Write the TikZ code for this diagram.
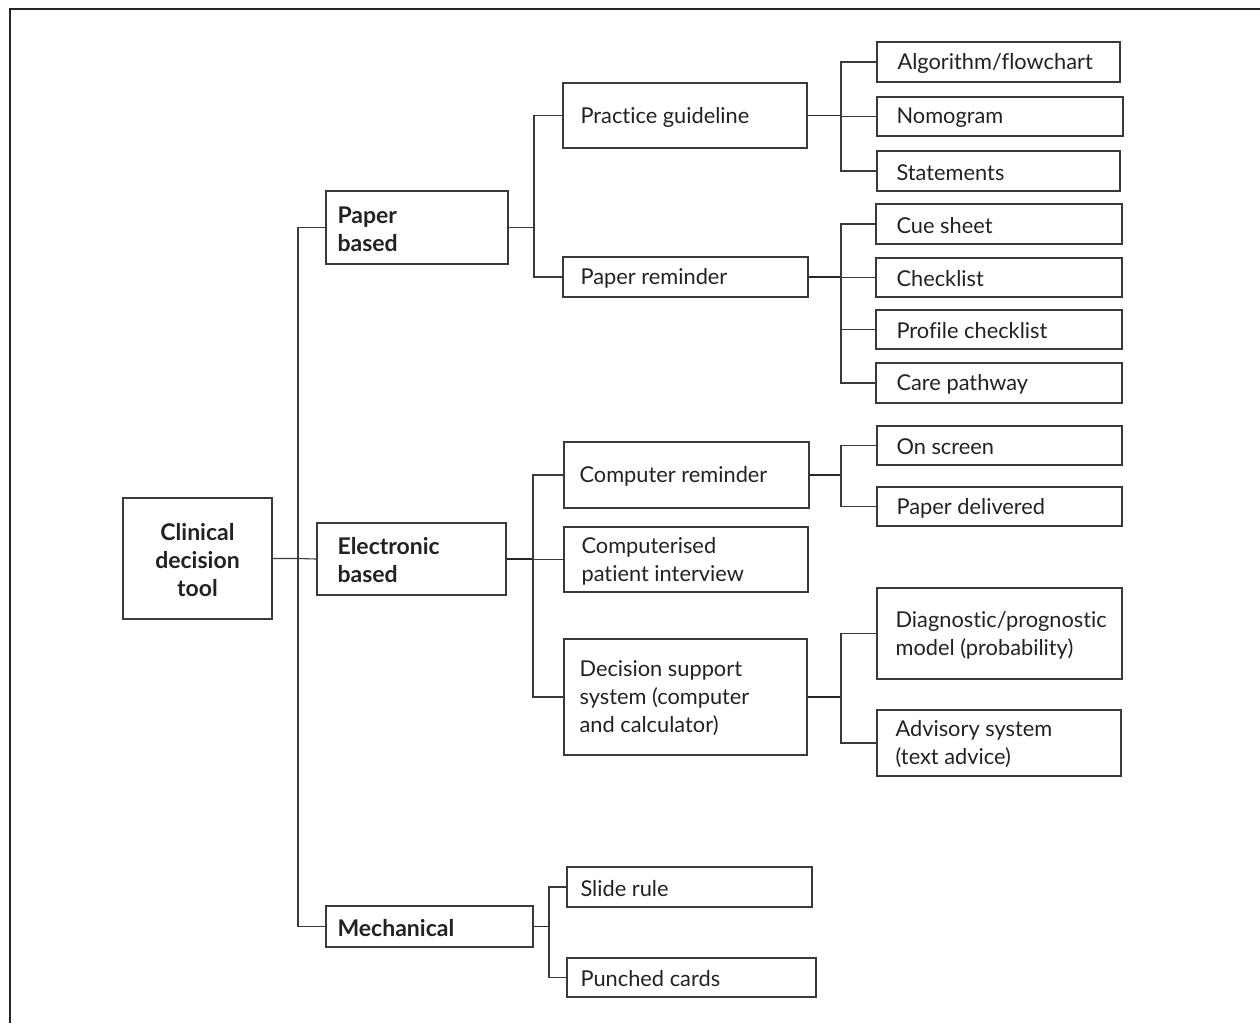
\documentclass[tikz,border=0pt]{standalone}
\usepackage{fontspec}
\setmainfont[Ligatures=NoCommon]{Lato}
\usetikzlibrary{fit}
\definecolor{ink}{HTML}{222222}
\definecolor{edge}{HTML}{3A3A3A}
\tikzset{
  x=1pt, y=-1pt,
  box/.style={draw=edge, line width=1.3pt, inner sep=0pt},
  txt/.style={anchor=west, inner sep=0pt, align=left, text=ink, yshift=-1.5pt,
    font=\fontsize{21.8}{28}\selectfont},
  btxt/.style={txt, font=\fontsize{23}{28}\selectfont\bfseries},
  link/.style={draw=edge, line width=1.1pt},
  stub/.style={draw=black!85, line width=1.9pt},
  frame/.style={draw=black!85, line width=2pt},
}
\begin{document}
\begin{tikzpicture}
\useasboundingbox (0,0) rectangle (1260,1023);
% page frame (top and left rules)
\draw[frame] (10,1023) -- (10,9) -- (1260,9);

% root
\node[box, fit={(123,498) (272,619)}] (cdt) {};
\node[btxt, anchor=center, align=center] (cdt-t) at (cdt.center) {Clinical\\decision\\tool};

% first level
\node[box, fit={(326,191) (508,264)}] (paper) {};
\node[btxt] (paper-t) at ([xshift=12pt]paper.west) {Paper\\based};
\node[box, fit={(317,523) (506,595)}] (elec) {};
\node[btxt] (elec-t) at ([xshift=21pt]elec.west) {Electronic\\based};
\node[box, fit={(326,906) (533,947)}] (mech) {};
\node[btxt] (mech-t) at ([xshift=12pt]mech.west) {Mechanical};

% paper based branch
\node[box, fit={(563,83) (807,148)}] (pg) {};
\node[txt] (pg-t) at ([xshift=18pt]pg.west) {Practice guideline};
\node[box, fit={(563,257) (808,297)}] (pr) {};
\node[txt] (pr-t) at ([xshift=18pt]pr.west) {Paper reminder};

\node[box, fit={(877,42) (1120,82)}] (alg) {};
\node[txt] (alg-t) at ([xshift=21pt]alg.west) {Algorithm/flowchart};
\node[box, fit={(877,97) (1123,136)}] (nomo) {};
\node[txt] (nomo-t) at ([xshift=20pt]nomo.west) {Nomogram};
\node[box, fit={(877,151) (1120,191)}] (stat) {};
\node[txt] (stat-t) at ([xshift=20pt]stat.west) {Statements};

\node[box, fit={(876,204) (1122,244)}] (cue) {};
\node[txt] (cue-t) at ([xshift=21pt]cue.west) {Cue sheet};
\node[box, fit={(876,258) (1122,297)}] (check) {};
\node[txt] (check-t) at ([xshift=21pt]check.west) {Checklist};
\node[box, fit={(876,310) (1122,349)}] (prof) {};
\node[txt] (prof-t) at ([xshift=21pt]prof.west) {Profile checklist};
\node[box, fit={(876,363) (1122,403)}] (care) {};
\node[txt] (care-t) at ([xshift=21pt]care.west) {Care pathway};

% electronic branch
\node[box, fit={(564,442) (809,508)}] (cr) {};
\node[txt] (cr-t) at ([xshift=16pt]cr.west) {Computer reminder};
\node[box, fit={(564,527) (808,592)}] (cpi) {};
\node[txt] (cpi-t) at ([xshift=18pt]cpi.west) {Computerised\\patient interview};
\node[box, fit={(564,639) (807,755)}] (dss) {};
\node[txt] (dss-t) at ([xshift=16pt]dss.west) {Decision support\\system (computer\\and calculator)};

\node[box, fit={(877,426) (1122,465)}] (onscr) {};
\node[txt] (onscr-t) at ([xshift=20pt]onscr.west) {On screen};
\node[box, fit={(877,487) (1122,526)}] (pdel) {};
\node[txt] (pdel-t) at ([xshift=20pt]pdel.west) {Paper delivered};

\node[box, fit={(877,588) (1122,679)}] (diag) {};
\node[txt] (diag-t) at ([xshift=19pt]diag.west) {Diagnostic/prognostic\\model (probability)};
\node[box, fit={(877,710) (1121,776)}] (adv) {};
\node[txt] (adv-t) at ([xshift=19pt]adv.west) {Advisory system\\(text advice)};

% mechanical branch
\node[box, fit={(567,867) (812,907)}] (slide) {};
\node[txt] (slide-t) at ([xshift=14pt]slide.west) {Slide rule};
\node[box, fit={(567,958) (816,997)}] (punch) {};
\node[txt] (punch-t) at ([xshift=14pt]punch.west) {Punched cards};

% bus positions
\coordinate (trunk) at (298,0);
\coordinate (pbus) at (534,0);
\coordinate (ebus) at (533,0);
\coordinate (mbus) at (549,0);
\coordinate (rbus) at (841,0);

% root to first level
\draw[link] (paper.west) -- (paper.west -| trunk) -- (mech.west -| trunk) -- (mech.west);
\draw[link] (cdt.east) -- (cdt.east -| trunk) -- (elec.west);

% paper based
\draw[link] (paper.east) -- (paper.east -| pbus);
\draw[link] (pg.west) -- (pg.west -| pbus) -- (pr.west -| pbus) -- (pr.west);
\draw[stub] (pg.east) -- (pg.east -| rbus);
\draw[link] (alg.west) -- (alg.west -| rbus) -- (stat.west -| rbus) -- (stat.west);
\draw[link] (nomo.west) -- (nomo.west -| rbus);
\draw[stub] (pr.east) -- (pr.east -| rbus);
\draw[link] (cue.west) -- (cue.west -| rbus) -- (care.west -| rbus) -- (care.west);
\draw[link] (check.west) -- (check.west -| rbus);
\draw[link] (prof.west) -- (prof.west -| rbus);

% electronic based
\draw[stub] (elec.east) -- (elec.east -| ebus);
\draw[link] (cr.west) -- (cr.west -| ebus) -- (dss.west -| ebus) -- (dss.west);
\draw[link] (cpi.west) -- (cpi.west -| ebus);
\draw[stub] (cr.east) -- (cr.east -| rbus);
\draw[link] (onscr.west) -- (onscr.west -| rbus) -- (pdel.west -| rbus) -- (pdel.west);
\draw[stub] (dss.east) -- (dss.east -| rbus);
\draw[link] (diag.west) -- (diag.west -| rbus) -- (adv.west -| rbus) -- (adv.west);

% mechanical
\draw[stub] (mech.east) -- (mech.east -| mbus);
\draw[link] (slide.west) -- (slide.west -| mbus) -- (punch.west -| mbus) -- (punch.west);
\end{tikzpicture}
\end{document}
